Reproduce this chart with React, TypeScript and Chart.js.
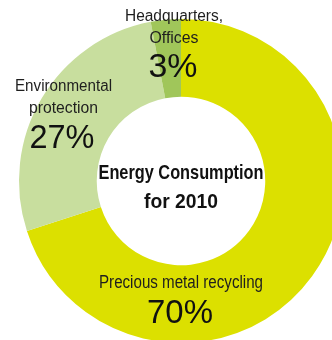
import React, { useEffect, useRef } from 'react';
import { Chart, registerables } from 'chart.js';

Chart.register(...registerables);

// ---- data ----
const categories = ['Precious metal recycling', 'Environmental protection', 'Headquarters, Offices'];
const shares = [70, 27, 3];
const sliceColors = ['#dce000', '#c8de9e', '#a0c65a'];
const labelLines = [['Precious metal recycling'], ['Environmental', 'protection'], ['Headquarters,', 'Offices']];
const centerTitle = ['Energy Consumption', 'for 2010'];

// ---- label layout (offsets from the ring centre) ----
type Place = { dx: number; lineBase: number[]; lineW: number[]; pctBase: number; pctDx: number; pctW: number; size: number };
const places: Place[] = [
  { dx: 0, lineBase: [107], lineW: [164], pctDx: -1, pctBase: 142, pctW: 66, size: 18 },
  { dx: -117.5, lineBase: [-90, -68], lineW: [97, 69], pctDx: -119, pctBase: -33.5, pctW: 65, size: 16 },
  { dx: -7, lineBase: [-160, -138], lineW: [98, 49], pctDx: -8, pctBase: -104, pctW: 49, size: 16 },
];
const centerBase = [-2, 27];
const centerW = [165, 74];

function drawFitted(ctx: CanvasRenderingContext2D, text: string, cx: number, base: number, font: string, width: number, color: string) {
  ctx.save();
  ctx.font = font;
  const w = ctx.measureText(text).width || 1;
  ctx.translate(cx, base);
  ctx.scale(width / w, 1);
  ctx.textAlign = 'center';
  ctx.textBaseline = 'alphabetic';
  ctx.fillStyle = color;
  ctx.fillText(text, 0, 0);
  ctx.restore();
}

const labelPlugin = {
  id: 'ringLabels',
  afterDraw(chart: any) {
    const meta = chart.getDatasetMeta(0);
    const arc = meta.data[0];
    if (!arc) return;
    const cx = arc.x;
    const cy = arc.y;
    const ctx: CanvasRenderingContext2D = chart.ctx;
    shares.forEach((v, i) => {
      const p = places[i];
      labelLines[i].forEach((line, j) => {
        drawFitted(ctx, line, cx + p.dx, cy + p.lineBase[j], `${p.size}px "Liberation Sans", Arial, sans-serif`, p.lineW[j], '#1e1e1e');
      });
      drawFitted(ctx, `${v}%`, cx + p.pctDx, cy + p.pctBase, '33px "Liberation Sans", Arial, sans-serif', p.pctW, '#111111');
    });
    centerTitle.forEach((line, j) => {
      drawFitted(ctx, line, cx, cy + centerBase[j], 'bold 21px "Liberation Sans Narrow", "Liberation Sans", Arial, sans-serif', centerW[j], '#111111');
    });
  },
};

export default function App() {
  const ref = useRef<HTMLCanvasElement>(null);
  useEffect(() => {
    if (!ref.current) return;
    const chart = new Chart(ref.current, {
      type: 'doughnut',
      data: {
        labels: categories,
        datasets: [
          {
            data: shares,
            backgroundColor: sliceColors,
            borderWidth: 0,
            hoverOffset: 0,
          },
        ],
      },
      options: {
        responsive: false,
        animation: false,
        devicePixelRatio: 1,
        cutout: '52%',
        layout: { padding: 19 },
        plugins: {
          legend: { display: false },
          tooltip: { enabled: false },
        },
      },
      plugins: [labelPlugin],
    });
    return () => chart.destroy();
  }, []);
  return (
    <div style={{ position: 'fixed', left: 0, top: 0, width: 332, height: 340, overflow: 'hidden', background: '#ffffff' }}>
      <canvas ref={ref} width={362} height={362} style={{ width: 362, height: 362, display: 'block' }} />
    </div>
  );
}
